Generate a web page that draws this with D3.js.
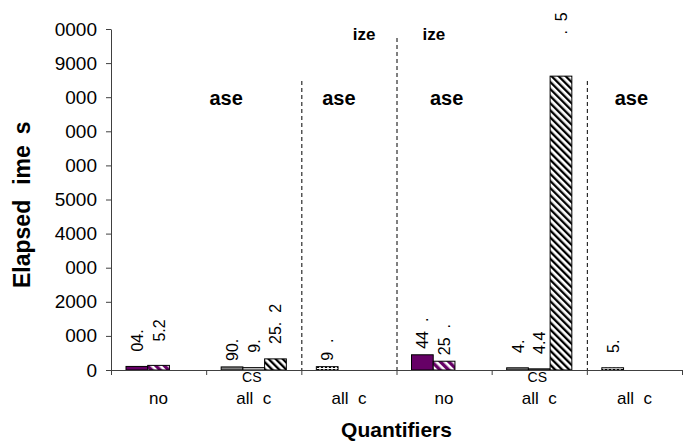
<!DOCTYPE html>
<html>
<head>
<meta charset="utf-8">
<script src="https://cdn.jsdelivr.net/npm/d3@7"></script>
<style>
  body { margin: 0; background: #fff; }
  text { font-family: "Liberation Sans", Arial, sans-serif; white-space: pre; }
</style>
</head>
<body>
<svg id="drawing_region"></svg>
<script>
// categories along the x axis, sub labels under some of them
const categories = ["no", "all  c", "all  c", "no", "all  c", "all  c"];
const subLabels = ["", "CS", "", "", "CS", ""];

// elapsed time per bar slot (null = no bar)
const series1 = [104.7, 90.2, 97.3, 446.1, 64.3, 65.2];
const series2 = [135.2, 69.4, null, 257.3, 34.4, null];
const series3 = [null, 325.82, null, null, 8617.35, null];

// data labels as they show in the picture (hidden glyphs kept as figure spaces)
const labels1 = ["\u200704.", "90.", "9\u2007.", "44\u2007.", "\u20074.", "\u20075."];
const labels2 = ["\u2007\u20075.2", "\u20079.", null, "25\u2007.", "\u20074.4", null];
const labels3 = [null, "\u200725.\u20072", null, null, "\u2007\u2007\u2007\u2007.\u20075", null];

// fill kind per bar slot
const fills1 = ["purple", "grey", "dots", "purple", "grey", "dots"];
const fills2 = ["purpleHatch", "light", null, "purpleHatch", "light", null];
const fills3 = [null, "blackHatch", null, null, "blackHatch", null];

const yTicks = [0, 1000, 2000, 3000, 4000, 5000, 6000, 7000, 8000, 9000, 10000];
const yTickLabels = ["0", "000", "2000", "000", "4000", "5000", "000", "000", "000", "9000", "0000"];

const config = {
    width: 696,
    height: 447,
    left: 111, right: 682, top: 29, bottom: 370
};

const svg = d3.select('#drawing_region')
    .attr('width', config.width)
    .attr('height', config.height);

const defs = svg.append('defs');

// patterns
let p = defs.append('pattern').attr('id', 'purpleHatch')
    .attr('patternUnits', 'userSpaceOnUse').attr('width', 6).attr('height', 6)
    .attr('patternTransform', 'rotate(-45)');
p.append('rect').attr('width', 6).attr('height', 6).attr('fill', '#fff');
p.append('rect').attr('width', 3.4).attr('height', 6).attr('fill', '#660066');

p = defs.append('pattern').attr('id', 'blackHatch')
    .attr('patternUnits', 'userSpaceOnUse').attr('width', 5).attr('height', 5)
    .attr('patternTransform', 'rotate(-45)');
p.append('rect').attr('width', 5).attr('height', 5).attr('fill', '#fff');
p.append('rect').attr('width', 2.3).attr('height', 5).attr('fill', '#000');

p = defs.append('pattern').attr('id', 'dots')
    .attr('patternUnits', 'userSpaceOnUse').attr('width', 4).attr('height', 3);
p.append('rect').attr('width', 4).attr('height', 3).attr('fill', '#fff');
p.append('rect').attr('x', 1).attr('width', 2).attr('height', 2).attr('fill', '#000');

const fillOf = {
    purple: '#660066',
    grey: '#808080',
    light: '#d8d8d8',
    purpleHatch: 'url(#purpleHatch)',
    blackHatch: 'url(#blackHatch)',
    dots: 'url(#dots)'
};

const x = d3.scaleBand()
    .domain(d3.range(categories.length))
    .range([config.left, config.right]);

const xSub = d3.scaleBand()
    .domain([0, 1, 2])
    .range([15, x.bandwidth() - 15]);

const xEdge = d3.scaleLinear()
    .domain([0, categories.length])
    .range([config.left, config.right]);

const y = d3.scaleLinear()
    .domain([0, 10000])
    .range([config.bottom, config.top]);

// dashed separators
const separators = [{at: 2, top: 81}, {at: 3, top: 38}, {at: 5, top: 81}];
svg.selectAll('.sep')
    .data(separators)
    .enter()
    .append('line')
    .attr('x1', d => xEdge(d.at) + 0.5).attr('x2', d => xEdge(d.at) + 0.5)
    .attr('y1', d => d.top).attr('y2', config.bottom)
    .attr('stroke', '#000')
    .attr('stroke-width', 1)
    .attr('stroke-dasharray', '4,3');

// bars
const bars = [];
[series1, series2, series3].forEach((s, k) => {
    const fills = [fills1, fills2, fills3][k];
    const labels = [labels1, labels2, labels3][k];
    s.forEach((v, i) => {
        if (v !== null) bars.push({cat: i, slot: k, value: v, fill: fills[i], label: labels[i]});
    });
});

svg.selectAll('.bar')
    .data(bars)
    .enter()
    .append('rect')
    .attr('x', d => x(d.cat) + xSub(d.slot))
    .attr('y', d => y(d.value))
    .attr('width', xSub.bandwidth())
    .attr('height', d => y(0) - y(d.value))
    .attr('fill', d => fillOf[d.fill])
    .attr('stroke', '#000')
    .attr('stroke-width', 1);

svg.selectAll('.label')
    .data(bars)
    .enter()
    .append('text')
    .attr('transform', d => {
        const cx = x(d.cat) + xSub(d.slot) + xSub.bandwidth() / 2 + 6;
        return `translate(${cx},${y(d.value) - 6}) rotate(-90)`;
    })
    .attr('font-size', '16px')
    .attr('fill', '#000')
    .text(d => d.label);

// y axis
const yAxis = d3.axisLeft(y)
    .tickValues(yTicks)
    .tickFormat((d, i) => yTickLabels[i])
    .tickSize(5)
    .tickSizeOuter(0)
    .tickPadding(9);

const gy = svg.append('g')
    .attr('transform', `translate(${config.left},0)`)
    .call(yAxis);
gy.selectAll('text').attr('font-size', '19px').attr('fill', '#000')
    .style('font-family', '"Liberation Sans", Arial, sans-serif');
gy.selectAll('line, path').attr('stroke', '#404040');

// x axis
const xAxis = d3.axisBottom(xEdge)
    .tickValues(d3.range(categories.length + 1))
    .tickFormat('')
    .tickSize(5)
    .tickSizeOuter(0);

const gx = svg.append('g')
    .attr('transform', `translate(0,${config.bottom})`)
    .call(xAxis);
gx.selectAll('line, path').attr('stroke', '#404040');

svg.selectAll('.cat')
    .data(categories)
    .enter()
    .append('text')
    .attr('x', (d, i) => x(i) + x.bandwidth() / 2)
    .attr('y', 404)
    .attr('text-anchor', 'middle')
    .attr('font-size', '17px')
    .text(d => d);

svg.selectAll('.sub')
    .data(subLabels)
    .enter()
    .append('text')
    .attr('x', (d, i) => x(i) + x.bandwidth() / 2 - 2)
    .attr('y', 382)
    .attr('text-anchor', 'middle')
    .attr('font-size', '14px')
    .text(d => d);

// titles
svg.append('text')
    .attr('x', (config.left + config.right) / 2)
    .attr('y', 437)
    .attr('text-anchor', 'middle')
    .attr('font-size', '21px')
    .attr('font-weight', 'bold')
    .text('Quantifiers');

const yTitle = svg.append('text')
    .attr('transform', `translate(30,288) rotate(-90)`)
    .attr('text-anchor', 'start')
    .attr('font-size', '23px')
    .attr('font-weight', 'bold');
yTitle.append('tspan').text('Elapsed');
yTitle.append('tspan').attr('dx', 15).text('ime');
yTitle.append('tspan').attr('dx', 11).text('s');

// group annotations
const caseNotes = [
    {x: x(1) + 20, y: 105},
    {x: xEdge(2.5) - 10, y: 105},
    {x: xEdge(4) - 45, y: 105},
    {x: xEdge(5.5) - 3, y: 105}
];
svg.selectAll('.case')
    .data(caseNotes)
    .enter()
    .append('text')
    .attr('x', d => d.x)
    .attr('y', d => d.y)
    .attr('text-anchor', 'middle')
    .attr('font-size', '20px')
    .attr('font-weight', 'bold')
    .text('ase');

svg.append('text')
    .attr('x', xEdge(3) - 21).attr('y', 40)
    .attr('text-anchor', 'end')
    .attr('font-size', '17px').attr('font-weight', 'bold')
    .text('ize');
svg.append('text')
    .attr('x', xEdge(3) + 26).attr('y', 40)
    .attr('text-anchor', 'start')
    .attr('font-size', '17px').attr('font-weight', 'bold')
    .text('ize');
</script>
</body>
</html>
